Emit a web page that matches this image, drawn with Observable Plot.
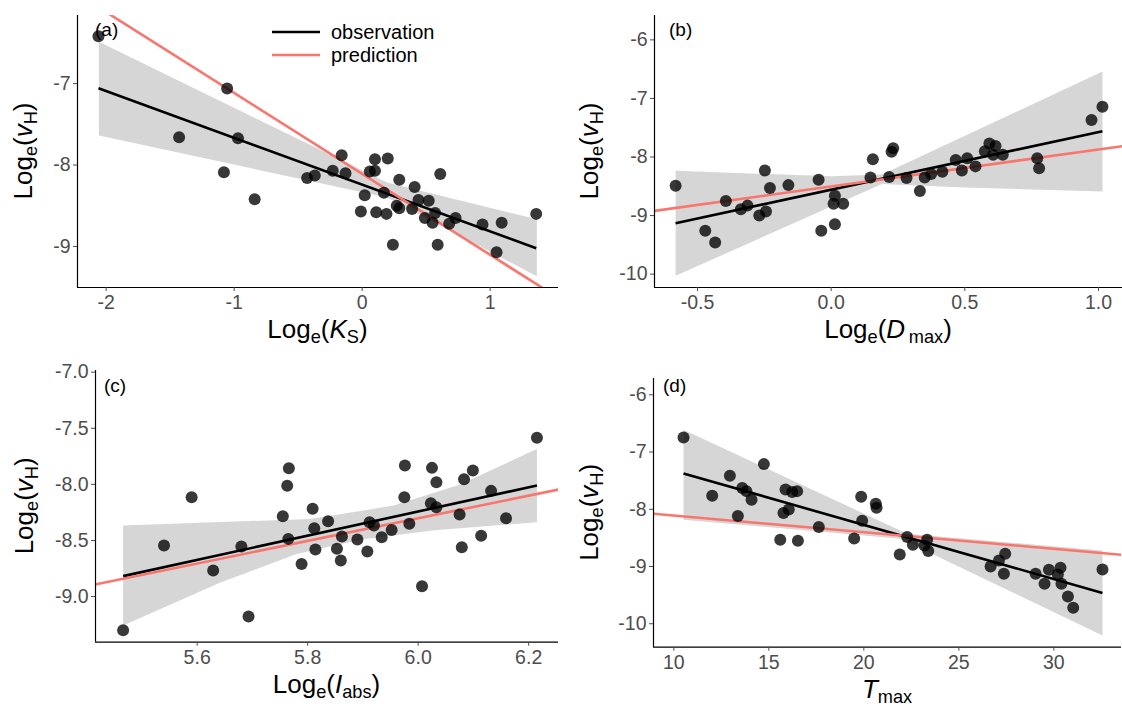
<!DOCTYPE html>
<html><head><meta charset="utf-8">
<script src="https://cdn.jsdelivr.net/npm/d3@7"></script>
<script src="https://cdn.jsdelivr.net/npm/@observablehq/plot@0.6"></script>
<style>
body{margin:0;background:#fff;}
#chart{position:relative;width:1122px;height:707px;font-family:"Liberation Sans",Arial,Helvetica,sans-serif;}
.panel{position:absolute;}
</style></head><body><div id="chart"></div>
<script>
// ---------- data ----------
// Panel (a): Log_e(K_S) vs Log_e(v_H)
const aX = [-2.06,-1.055,-1.43,-0.97,-1.08,-0.84,-0.43,-0.37,-0.23,-0.16,-0.13,0.02,-0.01,0.06,0.10,0.10,0.20,0.17,0.11,0.19,0.29,0.27,0.29,0.24,0.41,0.44,0.39,0.52,0.49,0.57,0.55,0.61,0.59,0.68,0.73,0.94,1.09,1.05,1.36];
const aY = [-6.42,-7.06,-7.66,-7.67,-8.09,-8.42,-8.16,-8.13,-8.07,-7.88,-8.10,-8.37,-8.57,-8.08,-7.93,-8.07,-7.92,-8.34,-8.58,-8.60,-8.18,-8.50,-8.53,-8.98,-8.27,-8.43,-8.54,-8.44,-8.65,-8.59,-8.71,-8.11,-8.98,-8.72,-8.65,-8.73,-8.71,-9.07,-8.60];
const aPredX = [-2.224, 1.534];
const aPredY = [-5.90, -9.633];
const aBandUpX = [-2.057, 0.195, 1.365], aBandUpY = [-6.486, -8.214, -8.667];
const aBandLoX = [-2.057, 0.195, 1.365], aBandLoY = [-7.638, -8.399, -9.366];

// Panel (b): Log_e(D_max)
const bX = [-0.582,-0.471,-0.434,-0.394,-0.338,-0.313,-0.269,-0.248,-0.229,-0.244,-0.160,-0.047,-0.037,0.014,0.009,0.045,0.014,0.156,0.147,0.226,0.232,0.217,0.282,0.332,0.350,0.374,0.416,0.466,0.509,0.489,0.540,0.575,0.592,0.615,0.606,0.642,0.771,0.778,0.974,1.015];
const bY = [-8.49,-9.26,-9.46,-8.75,-8.89,-8.83,-9.00,-8.23,-8.53,-8.93,-8.48,-8.39,-9.26,-8.66,-8.80,-8.80,-9.15,-8.04,-8.35,-7.91,-7.85,-8.34,-8.36,-8.58,-8.35,-8.29,-8.25,-8.05,-8.02,-8.23,-8.16,-7.90,-7.77,-7.81,-7.96,-7.96,-8.02,-8.19,-7.37,-7.14];
const bPredX = [-0.661, 1.090];
const bPredY = [-8.92, -7.815];
const bBandUpX = [-0.582, 0.0, 0.19, 1.015], bBandUpY = [-8.234, -8.33, -8.30, -6.541];
const bBandLoX = [-0.582, 0.19, 0.5, 1.015], bBandLoY = [-10.028, -8.46, -8.52, -8.587];

// Panel (c): Log_e(I_abs)
const cX = [5.466,5.540,5.590,5.629,5.680,5.693,5.755,5.763,5.766,5.765,5.789,5.809,5.812,5.814,5.837,5.853,5.862,5.860,5.890,5.908,5.912,5.920,5.934,5.952,5.976,5.975,5.984,6.007,6.025,6.033,6.023,6.033,6.075,6.079,6.083,6.099,6.114,6.132,6.159,6.215];
const cY = [-9.30,-8.545,-8.114,-8.768,-8.554,-9.178,-8.284,-8.013,-7.856,-8.486,-8.709,-8.218,-8.391,-8.581,-8.328,-8.575,-8.465,-8.679,-8.492,-8.599,-8.337,-8.367,-8.471,-8.406,-7.832,-8.114,-8.352,-8.908,-7.853,-7.981,-8.168,-8.204,-8.269,-8.560,-7.954,-7.877,-8.459,-8.058,-8.302,-7.585];
const cPredX = [5.415, 6.254];
const cPredY = [-8.893, -8.046];
const cBandUpX = [5.466, 5.805, 5.956, 6.076, 6.215], cBandUpY = [-8.367, -8.308, -8.189, -8.001, -7.684];
const cBandLoX = [5.466, 5.64, 5.78, 5.90, 6.03, 6.215], cBandLoY = [-9.259, -8.88, -8.62, -8.49, -8.41, -8.337];

// Panel (d): T_max
const dX = [10.51,12.02,12.95,13.37,13.60,13.82,14.09,14.74,15.60,15.77,15.88,16.05,16.23,16.49,16.53,17.63,19.49,19.86,19.91,20.63,20.67,21.89,22.28,22.58,23.19,23.33,23.39,26.67,27.11,27.37,27.44,29.04,29.51,29.74,30.21,30.35,30.40,30.74,31.02,32.56];
const dY = [-6.745,-7.764,-7.415,-8.119,-7.630,-7.683,-7.834,-7.211,-8.533,-8.066,-7.654,-8.003,-7.700,-7.683,-8.550,-8.311,-8.510,-7.782,-8.201,-7.904,-7.974,-8.789,-8.486,-8.620,-8.632,-8.533,-8.731,-8.999,-8.894,-9.127,-8.777,-9.127,-9.301,-9.057,-9.138,-9.022,-9.301,-9.523,-9.721,-9.051];
const dPredX = [8.93, 33.56];
const dPredY = [-8.078, -8.796];
const dBandUpX = [10.51, 22.28, 32.56], dBandUpY = [-6.611, -8.428, -8.719];
const dBandLoX = [10.51, 21.93, 32.56], dBandLoY = [-8.183, -8.515, -10.204];

// tick values
const aXTicks = [-2,-1,0,1],          aYTicks = [-9,-8,-7];
const bXTicks = [-0.5,0,0.5,1.0],     bYTicks = [-10,-9,-8,-7,-6];
const cXTicks = [5.6,5.8,6.0,6.2],    cYTicks = [-9.0,-8.5,-8.0,-7.5,-7.0];
const dXTicks = [10,15,20,25,30],     dYTicks = [-10,-9,-8,-7,-6];

const tags = ["(a)","(b)","(c)","(d)"];
const legendLabels = ["observation","prediction"];

// ---------- drawing ----------
const FONT = "Liberation Sans, Arial, Helvetica, sans-serif";
const RED = "#F8766D";
const TICKFS = 19.5;
const f0 = d => String(d);
const f1 = d => d.toFixed(1);

function richText(sel, parts, size) {
  let inSub = false;
  const shift = size * 0.2;
  parts.forEach(p => {
    const t = sel.append("tspan").text(p.t);
    if (p.sub && !inSub) { t.attr("dy", shift); inSub = true; }
    else if (!p.sub && inSub) { t.attr("dy", -shift); inSub = false; }
    t.attr("font-size", p.sub ? size * 0.7 : size);
    if (p.it) t.attr("font-style", "italic");
  });
}

const yTitleParts = [{t:"Log"},{t:"e",sub:true},{t:"("},{t:"v",it:true},{t:"H",sub:true},{t:")"}];

const panels = [
  {left:0, top:0, width:561, height:350, mL:77, mR:3, mT:15, mB:63,
   xd:[-2.224,1.534], yd:[-9.504,-6.164], X:aX, Y:aY, pX:aPredX, pY:aPredY,
   bu:[aBandUpX,aBandUpY], bl:[aBandLoX,aBandLoY],
   xt:aXTicks, yt:aYTicks, xf:f0, yf:f0, tag:tags[0], tagX:95, tagY:36, yTitleX:25,
   xTitle:[{t:"Log"},{t:"e",sub:true},{t:"("},{t:"K",it:true},{t:"S",sub:true},{t:")"}], legend:true},
  {left:561, top:0, width:561, height:350, mL:93, mR:0, mT:15, mB:63,
   xd:[-0.661,1.090], yd:[-10.228,-5.584], X:bX, Y:bY, pX:bPredX, pY:bPredY,
   bu:[bBandUpX,bBandUpY], bl:[bBandLoX,bBandLoY],
   xt:bXTicks, yt:bYTicks, xf:f1, yf:f0, tag:tags[1], tagX:108, tagY:36, yTitleX:30,
   xTitle:[{t:"Log"},{t:"e",sub:true},{t:"("},{t:"D",it:true},{t:"\u2009max",sub:true},{t:")"}]},
  {left:0, top:350, width:561, height:357, mL:95, mR:3, mT:20, mB:65.3,
   xd:[5.416,6.254], yd:[-9.407,-6.985], X:cX, Y:cY, pX:cPredX, pY:cPredY,
   bu:[cBandUpX,cBandUpY], bl:[cBandLoX,cBandLoY],
   xt:cXTicks, yt:cYTicks, xf:f1, yf:f1, tag:tags[2], tagX:104, tagY:41.5, yTitleX:26,
   xTitle:[{t:"Log"},{t:"e",sub:true},{t:"("},{t:"I",it:true},{t:"abs",sub:true},{t:")"}]},
  {left:561, top:350, width:561, height:357, mL:92, mR:1, mT:28, mB:60.3,
   xd:[8.93,33.56], yd:[-10.41,-5.715], X:dX, Y:dY, pX:dPredX, pY:dPredY,
   bu:[dBandUpX,dBandUpY], bl:[dBandLoX,dBandLoY],
   xt:dXTicks, yt:dYTicks, xf:f0, yf:f0, tag:tags[3], tagX:102, tagY:41.5, yTitleX:30,
   xTitle:[{t:"T",it:true},{t:"max",sub:true}]}
];

const chart = document.getElementById("chart");

panels.forEach(p => {
  const pts = p.X.map((x, i) => ({x, y: p.Y[i]}));
  const pred = p.pX.map((x, i) => ({x, y: p.pY[i]}));
  // band polygon: upper edge left->right, then lower edge right->left
  const band = p.bu[0].map((x, i) => ({x, y: p.bu[1][i]}))
    .concat(p.bl[0].map((x, i) => ({x, y: p.bl[1][i]})).reverse());
  const svg = Plot.plot({
    width: p.width, height: p.height,
    marginLeft: p.mL, marginRight: p.mR, marginTop: p.mT, marginBottom: p.mB,
    style: {fontFamily: FONT, fontSize: TICKFS + "px", background: "transparent", overflow: "visible"},
    x: {domain: p.xd},
    y: {domain: p.yd},
    marks: [
      Plot.line(band, {x: "x", y: "y", fill: "#999999", fillOpacity: 0.4, stroke: "none"}),
      Plot.linearRegressionY(pts, {x: "x", y: "y", ci: 0, stroke: "black", strokeWidth: 2.6, strokeLinecap: "butt"}),
      Plot.line(pred, {x: "x", y: "y", stroke: RED, strokeWidth: 2.6, clip: true}),
      Plot.dot(pts, {x: "x", y: "y", r: 6, fill: "black", fillOpacity: 0.78, stroke: "none"}),
      Plot.ruleX([p.xd[0]], {stroke: "black", strokeWidth: 1.2}),
      Plot.ruleY([p.yd[0]], {stroke: "black", strokeWidth: 1.2}),
      Plot.axisX({ticks: p.xt, tickFormat: p.xf, tickSize: 4, tickPadding: 4, fontSize: TICKFS, color: "#4d4d4d", label: null}),
      Plot.axisY({ticks: p.yt, tickFormat: p.yf, tickSize: 4, tickPadding: 3, fontSize: TICKFS, color: "#4d4d4d", label: null})
    ]
  });
  const div = document.createElement("div");
  div.className = "panel";
  div.style.left = p.left + "px";
  div.style.top = p.top + "px";
  div.appendChild(svg);
  chart.appendChild(div);

  const s = d3.select(svg);
  const plotBottom = p.height - p.mB;
  const cx = (p.mL + p.width - p.mR) / 2;
  const cy = (p.mT + plotBottom) / 2;

  // x title
  const xt = s.append("text").attr("x", cx).attr("y", plotBottom + 51)
    .attr("text-anchor", "middle").attr("fill", "black").attr("font-family", FONT);
  richText(xt, p.xTitle, 26);

  // y title
  const yt = s.append("text").attr("transform", `translate(${p.yTitleX},${cy}) rotate(-90)`)
    .attr("text-anchor", "middle").attr("dy", "0.35em").attr("fill", "black").attr("font-family", FONT);
  richText(yt, yTitleParts, 26);

  // panel tag
  s.append("text").attr("x", p.tagX).attr("y", p.tagY).attr("font-size", 19)
    .attr("text-anchor", "start").attr("font-family", FONT).attr("fill", "black").text(p.tag);

  // legend
  if (p.legend) {
    const items = [{label: legendLabels[0], color: "black", y: 32}, {label: legendLabels[1], color: RED, y: 55}];
    items.forEach(it => {
      s.append("line").attr("x1", 272).attr("x2", 320).attr("y1", it.y).attr("y2", it.y)
        .attr("stroke", it.color).attr("stroke-width", 2.6);
      s.append("text").attr("x", 331).attr("y", it.y).attr("dy", "0.35em")
        .attr("text-anchor", "start").attr("font-size", 20).attr("font-family", FONT)
        .attr("fill", "black").text(it.label);
    });
  }
});
</script>
</body></html>
